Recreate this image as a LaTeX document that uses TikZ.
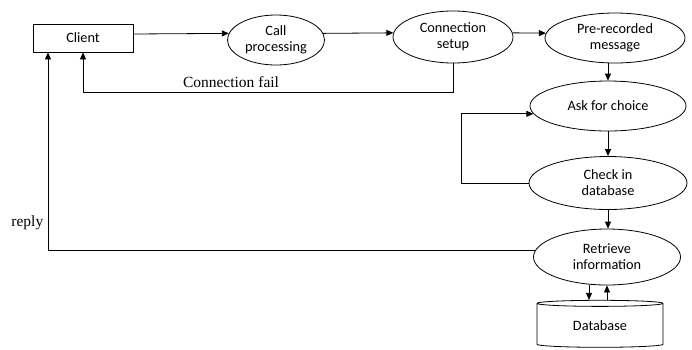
\documentclass[tikz,border=0pt]{standalone}
\usepackage{fontspec}
\setmainfont{Carlito}
\newfontfamily\serifnote{Liberation Serif}
\usetikzlibrary{shapes.geometric,arrows.meta}

\begin{document}
\begin{tikzpicture}[x=1pt,y=-1pt,line width=0.8pt,
  font=\fontsize{14.3}{16}\selectfont,
  stage/.style={draw,ellipse,inner sep=0pt,align=center},
  flow/.style={-{Triangle[length=7pt,width=6pt]}},
  note/.style={font=\serifnote\fontsize{15.5}{18}\selectfont}]
\useasboundingbox (0,0) rectangle (692,349);
\node[draw,minimum width=100pt,minimum height=28pt] (client) at (83,38) {Client};
\node[stage,minimum width=97pt,minimum height=50pt] (call) at (276,40) {Call\\processing};
\node[stage,minimum width=120pt,minimum height=52pt] (setup) at (453,37) {Connection\\setup};
\node[stage,minimum width=140pt,minimum height=50pt] (msg) at (615,38) {Pre-recorded\\message};
\node[stage,minimum width=156pt,minimum height=50pt] (ask) at (608,106) {Ask for choice};
\node[stage,minimum width=158pt,minimum height=53pt] (check) at (608,183) {Check in\\database};
\node[stage,minimum width=147pt,minimum height=56pt] (info) at (607,257) {Retrieve\\information};
\node[draw,cylinder,shape border rotate=90,aspect=0.1,minimum width=126pt,minimum height=47pt] (db) at (600,326) {Database};
\draw[flow] ([yshift=4pt]client.east) -- (call.172);
\draw[flow] (call.8) -- (setup.176);
\draw[flow] (setup.4) -- (msg.176);
\draw[flow] (ask.north |- msg.south) -- (ask.north);
\draw[flow] (setup.south) -- ++(0,29) -| (client.south) node[note,pos=0.3,above=1pt] {Connection fail};
\draw[flow] (check.west) -- ++(-67,0) |- (ask.186);
\draw[flow] (ask.south) -- (check.north);
\draw[flow] (check.south) -- (info.north -| check.south);
\draw[flow] ([xshift=-18pt]info.south) -- ([xshift=-18pt]info.south |- db.north);
\draw[flow] (info.south |- db.north) -- (info.south);
\draw[flow] (info.175) -| ([xshift=-35pt]client.south) node[note,pos=0.57,left=1pt] {reply};
\end{tikzpicture}
\end{document}
